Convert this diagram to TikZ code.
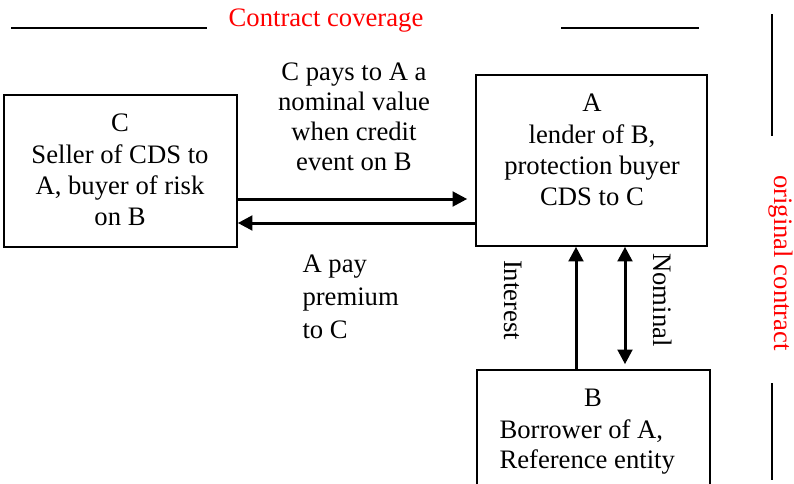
\documentclass[tikz,border=0pt]{standalone}
\usepackage{fontspec}
\setmainfont{LiberationSerif}[Extension=.ttf, UprightFont=*-Regular, BoldFont=*-Bold]
\usetikzlibrary{arrows.meta}

\tikzset{every picture/.style={line width=0.75pt}}

\begin{document}
\begin{tikzpicture}[x=0.75pt,y=0.75pt,yscale=-1,xscale=1,
	box/.style={draw, line width=1.2pt, inner sep=0pt},
	rule/.style={line width=1.5pt},
	flow/.style={line width=2.25pt, -{Triangle[length=11pt,width=11pt]}},
	dflow/.style={line width=2.25pt, {Triangle[length=11pt,width=11pt]}-{Triangle[length=11pt,width=11pt]}},
	txt/.style={inner sep=0pt, align=center, font=\fontsize{20}{23.5}\selectfont},
	redtxt/.style={txt, color={rgb, 255:red, 255; green, 0; blue, 0 }, opacity=1}]
	%set diagram left start at 0, and has height of 483
	\useasboundingbox (0,0) rectangle (794,483);
	\clip (0,0) rectangle (794,483);
	
	%Shape: Rectangle [C]
	\draw (120.5,171) node (boxC) [box, minimum width=174.75pt, minimum height=114pt] {};
	%Shape: Rectangle [A]
	\draw (591.5,160.5) node (boxA) [box, minimum width=173.25pt, minimum height=128.25pt] {};
	%Shape: Rectangle [B]
	\draw (593.5,435) node (boxB) [box, minimum width=174.75pt, minimum height=97.5pt] {};
	
	%Straight Lines [top left]
	\draw [rule] (11,28) -- (207,28) ;
	%Straight Lines [top right]
	\draw [rule] (561,28) -- (699,28) ;
	%Straight Lines [right upper]
	\draw [rule] (772,14) -- (772,136) ;
	%Straight Lines [right lower]
	\draw [rule] (772,383) -- (772,480) ;
	
	%Straight Lines [C to A]
	\draw [flow, shorten >=6pt] (boxC.east |- 0,199) -- (boxA.west |- 0,199) ;
	%Straight Lines [A to C]
	\draw [flow] (boxA.west |- 0,223) -- (boxC.east |- 0,223) ;
	%Straight Lines [B to A]
	\draw [flow] (boxB.north -| 576,0) -- (boxA.south -| 576,0) ;
	%Straight Lines [A and B]
	\draw [dflow, shorten >=3.75pt] (boxA.south -| 625,0) -- (boxB.north -| 625,0) ;
	
	% Text Node
	\draw (326,26) node (title) [redtxt, anchor=base] {Contract coverage};
	% Text Node
	\draw (780.5,263) node (orig) [redtxt, rotate=-90] {original contract};
	% Text Node
	\draw (120,170) node (lblC) [txt] {C\\Seller of CDS to\\A, buyer of risk\\on B};
	% Text Node
	\draw (592,150) node (lblA) [txt] {A\\lender of B,\\protection buyer\\CDS to C};
	% Text Node
	\draw (593,406) node (lblB) [txt, anchor=base] {B};
	% Text Node
	\draw (499,418.8) node (lblBdesc) [txt, anchor=north west, align=left, font=\fontsize{20}{22.5}\selectfont] {Borrower of A,\\Reference entity};
	% Text Node
	\draw (354,116.5) node (pays) [txt, font=\fontsize{20}{22.5}\selectfont] {C pays to A a\\nominal value\\when credit\\event on B};
	% Text Node
	\begin{scope}
		\clip (280,240) rectangle (450,339);
		\draw (302,254.3) node (premium) [txt, anchor=north west, align=left, font=\fontsize{20}{24.75}\selectfont] {A pay\\premium\\to C};
	\end{scope}
	% Text Node
	\draw (513,300) node (interest) [txt, rotate=-90] {Interest};
	% Text Node
	\draw (663,300) node (nominal) [txt, rotate=-90] {Nominal};
	
\end{tikzpicture}
\end{document}
